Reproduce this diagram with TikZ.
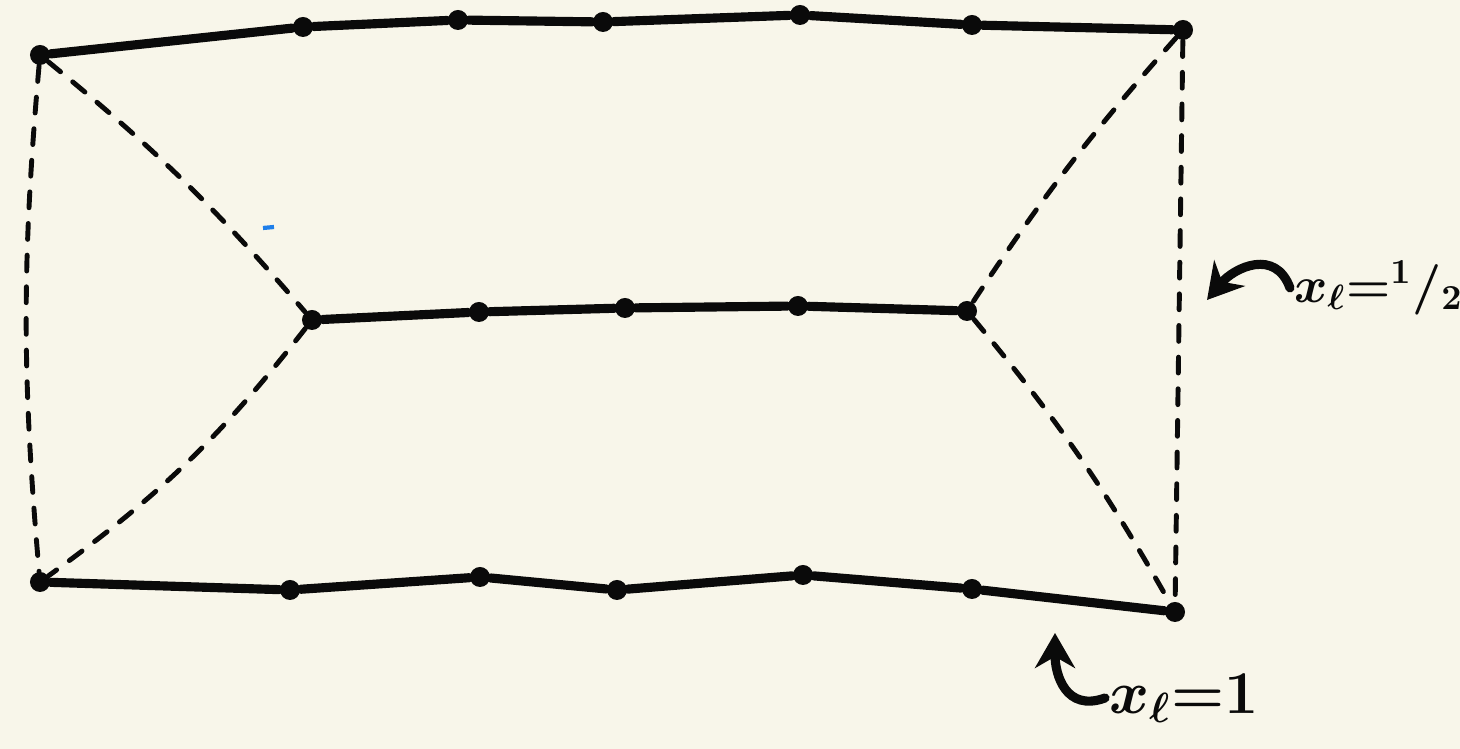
\documentclass[tikz,border=0pt]{standalone}
\usetikzlibrary{arrows.meta,positioning}
\definecolor{SketchPaper}{HTML}{F8F6EA}
\definecolor{SketchInk}{HTML}{0A0A0A}
\definecolor{SketchBlue}{HTML}{1F7FEA}

\begin{document}
\begin{tikzpicture}[
    x=0.01cm, y=0.01cm,
    dot/.style={
      circle,
      fill=SketchInk,
      inner sep=0pt,
      minimum size=0.2cm
    },
    wire/.style={
      line width=2.6pt,
      draw=SketchInk,
      line cap=round,
      line join=round
    },
    seam/.style={
      line width=1.4pt,
      draw=SketchInk,
      line cap=round,
      dash pattern=on 4.5pt off 4.5pt
    },
    note/.style={
      font=\LARGE\boldmath,
      text=SketchInk,
      inner sep=1pt,
      anchor=west
    },
    pointer/.style={
      -{Stealth[length=3.5mm,width=4mm]},
      line width=2.6pt,
      draw=SketchInk,
      line cap=round
    }]

    % paper
    \path[use as bounding box, fill=SketchPaper] (0,0) rectangle (1460,749);

    % Top row
    \node[dot] (t0) at (40,694) {};
    \node[dot] (t1) at (303,722) {};
    \node[dot] (t2) at (458,729) {};
    \node[dot] (t3) at (603,727) {};
    \node[dot] (t4) at (800,734) {};
    \node[dot] (t5) at (972,724) {};
    \node[dot] (t6) at (1183,719) {};

    % Middle row
    \node[dot] (m0) at (312,429) {};
    \node[dot] (m1) at (479,437) {};
    \node[dot] (m2) at (625,441) {};
    \node[dot] (m3) at (798,443) {};
    \node[dot] (m4) at (967,438) {};

    % Bottom row
    \node[dot] (b0) at (40,167) {};
    \node[dot] (b1) at (290,159) {};
    \node[dot] (b2) at (480,172) {};
    \node[dot] (b3) at (617,159) {};
    \node[dot] (b4) at (803,174) {};
    \node[dot] (b5) at (972,160) {};
    \node[dot] (b6) at (1175,137) {};

    % Solid rows
    \draw[wire] (t0) -- (t1) -- (t2) -- (t3) -- (t4) -- (t5) -- (t6);
    \draw[wire] (m0) -- (m1) -- (m2) -- (m3) -- (m4);
    \draw[wire] (b0) -- (b1) -- (b2) -- (b3) -- (b4) -- (b5) -- (b6);

    % Dashed seams
    \draw[seam] (t0) to[bend right=5] (b0);
    \draw[seam] (t0) to[bend left=5] (m0);
    \draw[seam] (m0) to[bend left=8] (b0);
    \draw[seam] (t6) to[bend right=4] (m4);
    \draw[seam] (m4) to[bend left=5] (b6);
    \draw[seam] (t6) -- (b6);

    % stray pen mark
    \draw[SketchBlue, line width=1.2pt] (263,521) -- (274,522);

    % Labels with their arrows
    \node[note, font=\Large\boldmath] (half) at (1290,461) {$x_\ell{=}{}^1/_2$};
    \coordinate (halftip) at (1207,449);
    \draw[pointer] (half.west) to[out=110,in=50,looseness=1.3] (halftip);

    \node[note] (one) at (1105,51) {$x_\ell{=}1$};
    \coordinate (onetip) at (1055,116);
    \draw[pointer] (one.west) to[out=200,in=-90,looseness=1.3] (onetip);
  \end{tikzpicture}
\end{document}
